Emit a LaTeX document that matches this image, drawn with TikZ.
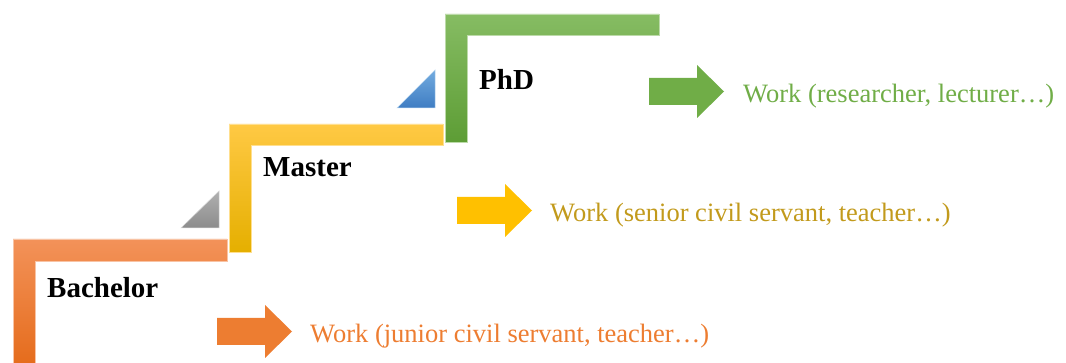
\documentclass[tikz,border=0pt]{standalone}
\usepackage{fontspec}
\setmainfont{Liberation Serif}
\definecolor{orTop}{HTML}{F39259}
\definecolor{orMid}{HTML}{EE7C31}
\definecolor{orBot}{HTML}{E56C1C}
\definecolor{yeTop}{HTML}{FFC944}
\definecolor{yeMid}{HTML}{FFC000}
\definecolor{yeBot}{HTML}{E5AF00}
\definecolor{grTop}{HTML}{86BC63}
\definecolor{grMid}{HTML}{6FAD46}
\definecolor{grBot}{HTML}{5D9D35}
\definecolor{gyTop}{HTML}{B0B0B0}
\definecolor{gyBot}{HTML}{8C8C8C}
\definecolor{blTop}{HTML}{72ABDF}
\definecolor{blBot}{HTML}{3F7DC3}
\definecolor{workOrange}{HTML}{ED7D31}
\definecolor{workGold}{HTML}{C29A1C}
\definecolor{workGreen}{HTML}{70AD47}
\begin{document}
\begin{tikzpicture}[x=1pt,y=-1pt,
  stepbar/.style={line width=0.7pt, line join=miter},
  levellabel/.style={anchor=base west, inner sep=0pt, font=\fontsize{29}{32}\selectfont\bfseries, text=black},
  worklabel/.style={anchor=base west, inner sep=0pt, font=\fontsize{26.5}{30}\selectfont}]
\useasboundingbox (0,0) rectangle (1066,363);

% Bachelor step (orange)
\shade[stepbar, draw=orTop!55!white, top color=orTop, middle color=orMid, bottom color=orBot]
  (13,365) -- (13,239) -- (227,239) -- (227,261) -- (35,261) -- (35,365) -- cycle;
% Master step (yellow)
\shade[stepbar, draw=yeTop!60!white, top color=yeTop, middle color=yeMid, bottom color=yeBot]
  (229,252) -- (229,124) -- (443,124) -- (443,145) -- (251,145) -- (251,252) -- cycle;
% PhD step (green)
\shade[stepbar, draw=grTop!55!white, top color=grTop, middle color=grMid, bottom color=grBot]
  (445,142) -- (445,14) -- (659,14) -- (659,35) -- (467,35) -- (467,142) -- cycle;

% Corner wedges
\shade[draw=gyTop!50!white, line width=0.5pt, top color=gyTop, bottom color=gyBot]
  (181,228) -- (219,228) -- (219,191) -- cycle;
\shade[draw=blTop!50!white, line width=0.5pt, top color=blTop, bottom color=blBot]
  (397,108) -- (435,108) -- (435,70) -- cycle;

% Level labels
\node[levellabel] (bachelor) at (47,298) {Bachelor};
\node[levellabel] (master) at (263,177) {Master};
\node[levellabel] (phd) at (479,90) {PhD};

% Block arrows (tail centre given; shaft 48 long, 27 high; head 27 long, 53 high)
\coordinate (arrB) at (217,331.5);
\coordinate (arrM) at (457,210.5);
\coordinate (arrP) at (649,91.5);
\foreach \a/\c in {arrB/workOrange, arrM/yeMid, arrP/workGreen}{
  \fill[\c] ([yshift=13.5pt]\a) -- ++(48,0) -- ++(0,-13) -- ++(27,26.5)
    -- ++(-27,26.5) -- ++(0,-13) -- ++(-48,0) -- cycle;
}

% Career outcomes
\node[worklabel, text=workOrange] (workB) at (310,343) {Work (junior civil servant, teacher…)};
\node[worklabel, text=workGold] (workM) at (550,222) {Work (senior civil servant, teacher…)};
\node[worklabel, text=workGreen] (workP) at (743,103) {Work (researcher, lecturer…)};
\end{tikzpicture}
\end{document}
